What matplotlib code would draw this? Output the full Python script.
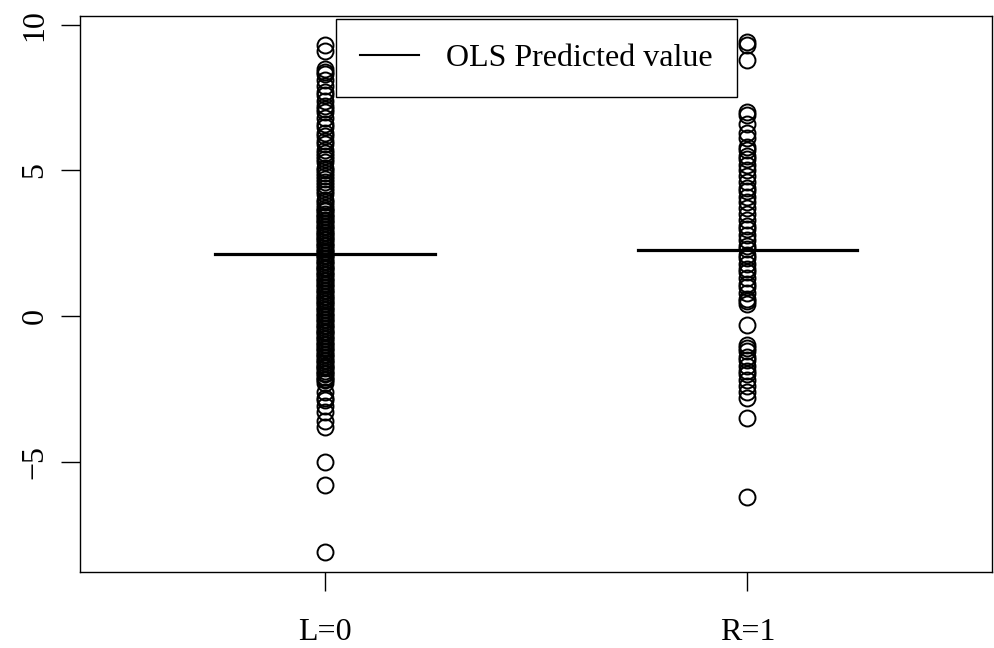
import numpy as np
import matplotlib.pyplot as plt

plt.rcParams['font.family'] = ['Liberation Serif', 'DejaVu Serif']

# ───────────────────────────────────────────────────────
# data
groups = ["L=0", "R=1"]
group_x = [0, 1]
ols_pred = [2.13, 2.27]

vals_L = [9.3, 9.1, 8.5, 8.4, 8.3, 8.1, 7.9, 7.7, 7.6, 7.4, 7.2, 7.1, 7.0, 6.8,
          6.6, 6.5, 6.3, 6.2, 6.0, 5.9, 5.7, 5.6, 5.5, 5.4, 5.3, 5.1, 5.0, 4.9,
          4.8, 4.7, 4.6, 4.5, 4.4, 4.3, 4.2, 4.0, 3.9, 3.8, 3.7, 3.6, 3.5, 3.4,
          3.3, 3.2, 3.1, 3.0, 2.9, 2.8, 2.7, 2.6, 2.5, 2.4, 2.3, 2.2, 2.1, 2.0,
          1.9, 1.8, 1.7, 1.6, 1.5, 1.4, 1.3, 1.2, 1.1, 1.0, 0.9, 0.8, 0.7, 0.6,
          0.5, 0.4, 0.3, 0.2, 0.1, 0.0, -0.1, -0.2, -0.3, -0.4, -0.5, -0.6,
          -0.7, -0.8, -0.9, -1.0, -1.1, -1.2, -1.3, -1.4, -1.5, -1.6, -1.7,
          -1.8, -1.9, -2.0, -2.1, -2.2, -2.3, -2.6, -2.8, -2.9, -3.1, -3.3,
          -3.6, -3.8, -5.0, -5.8, -8.1,
          # extra points in the dense middle of the column
          3.65, 3.45, 3.25, 3.05, 2.85, 2.65, 2.45, 2.25, 2.05, 1.85, 1.65,
          1.45, 1.25, 1.05, 0.85, 0.65, 0.45, 0.25, 0.05, -0.15, -0.35, -0.55,
          -0.75, -0.95, -1.15, -1.35, -1.55, -1.75, -1.95, -2.15]
vals_R = [9.4, 9.3, 8.8, 7.0, 6.9, 6.6, 6.3, 6.1, 5.8, 5.7, 5.5, 5.4, 5.2, 5.0,
          4.8, 4.6, 4.4, 4.3, 4.1, 3.9, 3.7, 3.5, 3.3, 3.1, 3.0, 2.8, 2.6, 2.4,
          2.3, 2.1, 2.0, 1.8, 1.6, 1.5, 1.3, 1.1, 1.0, 0.8, 0.6, 0.5, 0.4, -0.3,
          -1.0, -1.1, -1.2, -1.4, -1.5, -1.7, -1.9, -2.0, -2.2, -2.4, -2.6,
          -2.8, -3.5, -6.2]

# ───────────────────────────────────────────────────────
fig = plt.figure(figsize=(9.95, 6.48), dpi=100)
ax = fig.add_axes([0.0804, 0.117, 0.917, 0.858])

for xv, vals in zip(group_x, [vals_L, vals_R]):
    ax.plot([xv] * len(vals), vals, linestyle="none", marker="o", markersize=11.5,
            markerfacecolor="none", markeredgecolor="black", markeredgewidth=1.4)

for i, (xv, p) in enumerate(zip(group_x, ols_pred)):
    ax.plot([xv - 0.26, xv + 0.26], [p, p], color="black", linewidth=2.3,
            label="OLS Predicted value" if i == 0 else None)

ax.set_xlim(-0.58, 1.58)
ax.set_ylim(-8.8, 10.3)
ax.set_xticks(group_x)
ax.set_xticklabels(groups)
ax.set_yticks([-5, 0, 5, 10])
ax.set_yticklabels(["\u22125", "0", "5", "10"], rotation=90, va="center")
ax.tick_params(labelsize=23, length=14, width=1.0, direction="out")
ax.tick_params(axis="x", pad=19)
ax.tick_params(axis="y", pad=8)
for s in ax.spines.values():
    s.set_linewidth(1.0)

leg = ax.legend(loc="upper center", borderaxespad=0.1, fancybox=False,
                edgecolor="black", framealpha=1, fontsize=23, handlelength=1.85,
                borderpad=0.75, handletextpad=0.85)
leg.get_frame().set_linewidth(1.0)
for h in leg.get_lines():
    h.set_linewidth(1.5)

plt.savefig("out.png", dpi=100)
